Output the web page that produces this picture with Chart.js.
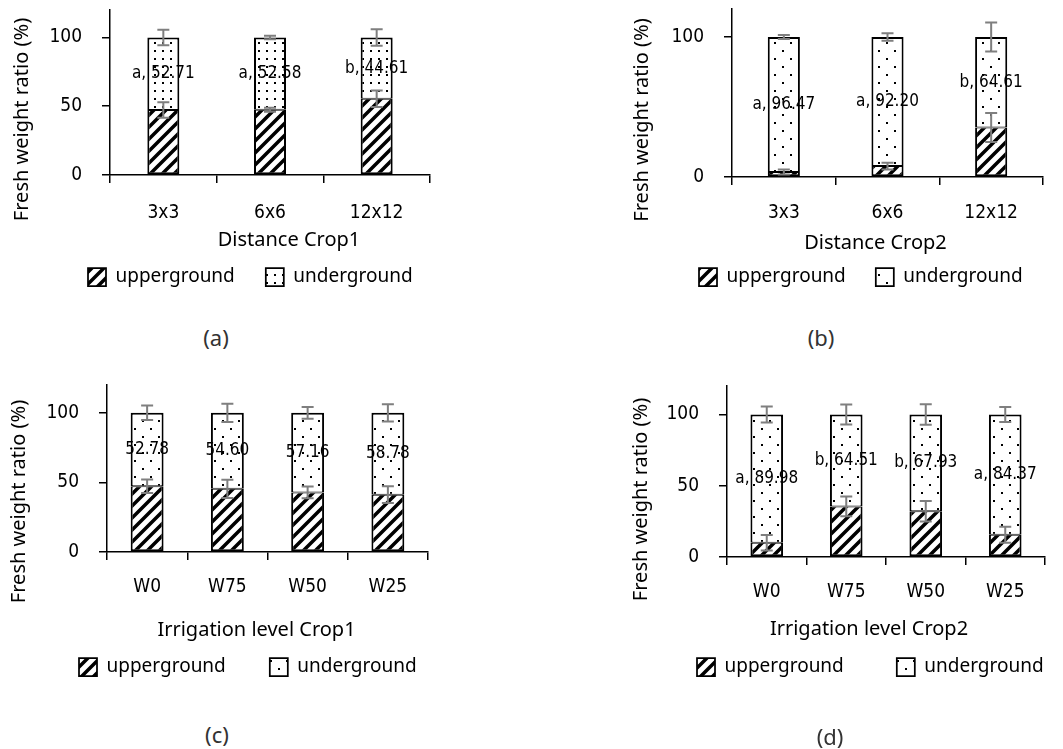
<!DOCTYPE html>
<html>
<head>
<meta charset="utf-8">
<script src="https://cdn.jsdelivr.net/npm/chart.js@4.4.0/dist/chart.umd.min.js"></script>
<style>
  html, body { margin: 0; padding: 0; background: #fff; overflow: hidden; }
  body { width: 1063px; height: 749px; position: relative; }
  canvas { position: absolute; }
  .cap { position: absolute; font-family: 'Noto Sans', sans-serif; font-size: 22px; color: #333; transform: translate(-50%, -50%); }
</style>
</head>
<body>
<canvas id="chartA" width="440" height="312" style="left:0px; top:0px"></canvas>
<canvas id="chartB" width="433" height="314" style="left:620px; top:0px"></canvas>
<canvas id="chartC" width="458" height="345" style="left:-20px; top:370px"></canvas>
<canvas id="chartD" width="480" height="353" style="left:575px; top:370px"></canvas>
<div class="cap" style="left:216px; top:337px">(a)</div>
<div class="cap" style="left:821px; top:337px">(b)</div>
<div class="cap" style="left:217px; top:734px">(c)</div>
<div class="cap" style="left:830px; top:736px">(d)</div>

<script>
const distanceLabels = ['3x3', '6x6', '12x12'];
const irrigationLabels = ['W0', 'W75', 'W50', 'W25'];
const yTicksFull = [0, 50, 100];
const yTicksShort = [0, 100];
const yTitle = 'Fresh weight ratio (%)';

// (a) distance - crop 1
const distCrop1Upper = [47.29, 47.42, 55.39];
const distCrop1Under = [52.71, 52.58, 44.61];
const distCrop1UpperErr = [5.7, 1.5, 6.0];
const distCrop1UnderErr = [5.7, 1.2, 6.0];
const distCrop1Letters = ['a', 'a', 'b'];

// (b) distance - crop 2
const distCrop2Upper = [3.53, 7.80, 35.39];
const distCrop2Under = [96.47, 92.20, 64.61];
const distCrop2UpperErr = [1.8, 2.4, 10.4];
const distCrop2UnderErr = [1.4, 2.7, 10.4];
const distCrop2Letters = ['a', 'a', 'b'];

// (c) irrigation - crop 1 (no letters here)
const irrCrop1Upper = [47.22, 45.40, 42.84, 41.22];
const irrCrop1Under = [52.78, 54.60, 57.16, 58.78];
const irrCrop1UpperErr = [4.9, 6.6, 4.2, 6.0];
const irrCrop1UnderErr = [5.2, 6.5, 4.2, 6.2];
const irrCrop1Letters = ['', '', '', ''];

// (d) irrigation - crop 2
const irrCrop2Upper = [10.02, 35.49, 32.07, 15.63];
const irrCrop2Under = [89.98, 64.51, 67.93, 84.37];
const irrCrop2UpperErr = [5.5, 6.9, 7.2, 5.6];
const irrCrop2UnderErr = [5.6, 7.1, 7.2, 5.2];
const irrCrop2Letters = ['a', 'b', 'b', 'a'];

const tickFont = { family: "'DejaVu Sans Condensed', 'Liberation Sans', sans-serif", size: 19, lineHeight: 1.2 };
const valueFont = "17px 'DejaVu Sans Condensed', 'Liberation Sans', sans-serif";
const titleFont = "20px 'Noto Sans', sans-serif";
const legendFont = { family: "'Noto Sans', sans-serif", size: 19, lineHeight: 1.2 };

// black diagonal hatching for the upperground part
function stripePattern() {
  const c = document.createElement('canvas');
  c.width = c.height = 12;
  const g = c.getContext('2d');
  g.fillStyle = '#fff';
  g.fillRect(0, 0, 12, 12);
  g.strokeStyle = '#000';
  g.lineWidth = 3.5;
  g.beginPath();
  g.moveTo(-3, 15); g.lineTo(15, -3);
  g.moveTo(-3, 3); g.lineTo(3, -3);
  g.moveTo(9, 15); g.lineTo(15, 9);
  g.stroke();
  return g.createPattern(c, 'repeat');
}

// dots for the underground part (grid or staggered)
function dotPattern(grid) {
  const c = document.createElement('canvas');
  c.width = c.height = 16;
  const g = c.getContext('2d');
  g.fillStyle = '#fff';
  g.fillRect(0, 0, 16, 16);
  g.fillStyle = '#000';
  g.fillRect(2, 2, 2, 2);
  g.fillRect(10, 10, 2, 2);
  if (grid) {
    g.fillRect(10, 2, 2, 2);
    g.fillRect(2, 10, 2, 2);
  }
  return g.createPattern(c, 'repeat');
}

// error bars on top of each stacked segment + value labels in the underground part
const barExtras = {
  id: 'barExtras',
  afterDatasetsDraw(chart) {
    const ctx = chart.ctx;
    const yScale = chart.scales.y;
    const sets = chart.data.datasets;
    ctx.save();
    ctx.strokeStyle = '#7f7f7f';
    ctx.lineWidth = 2;
    sets.forEach((ds, i) => {
      chart.getDatasetMeta(i).data.forEach((bar, j) => {
        let top = 0;
        for (let k = 0; k <= i; k++) top += sets[k].data[j];
        const e = ds.errors[j];
        const y1 = yScale.getPixelForValue(top + e);
        const y2 = yScale.getPixelForValue(top - e);
        ctx.beginPath();
        ctx.moveTo(bar.x, y1); ctx.lineTo(bar.x, y2);
        ctx.moveTo(bar.x - 6, y1); ctx.lineTo(bar.x + 6, y1);
        ctx.moveTo(bar.x - 6, y2); ctx.lineTo(bar.x + 6, y2);
        ctx.stroke();
      });
    });
    // labels: "letter, value" of the underground share
    const under = sets[1];
    ctx.fillStyle = '#000';
    ctx.font = valueFont;
    ctx.textAlign = 'center';
    ctx.textBaseline = 'middle';
    chart.getDatasetMeta(1).data.forEach((bar, j) => {
      const v = under.data[j].toFixed(2);
      const txt = under.letters[j] ? under.letters[j] + ', ' + v : v;
      ctx.fillText(txt, bar.x, (bar.y + bar.base) / 2);
    });
    ctx.restore();
  }
};

// axis titles sit off-centre in the original (Excel), so draw them here
const axisTitles = {
  id: 'axisTitles',
  afterDraw(chart, args, o) {
    const ctx = chart.ctx, a = chart.chartArea;
    ctx.save();
    ctx.fillStyle = '#000';
    ctx.font = titleFont;
    ctx.textAlign = 'center';
    ctx.textBaseline = 'middle';
    ctx.fillText(o.xText, (a.left + a.right) / 2 + o.xShift, a.bottom + o.xDrop);
    ctx.translate(a.left - o.yGap, (a.top + a.bottom) / 2 + o.yShift);
    ctx.rotate(-Math.PI / 2);
    ctx.fillText(o.yText, 0, 0);
    ctx.restore();
  }
};

// Excel puts the legend a bit left of where chart.js centers it, so move it
const legendSpot = {
  id: 'legendSpot',
  afterLayout(chart, args, opts) {
    const lg = chart.legend;
    if (!lg || opts.x == null) return;
    const pad = lg.options.labels.padding;
    const w = lg.right - lg.left, h = lg.bottom - lg.top;
    lg.left = opts.x - pad; lg.right = lg.left + w;
    lg.top = opts.y - pad; lg.bottom = lg.top + h;
  }
};

function makeChart(id, o) {
  const ctx = document.getElementById(id).getContext('2d');
  return new Chart(ctx, {
    type: 'bar',
    data: {
      labels: o.labels,
      datasets: [
        {
          label: 'upperground',
          data: o.upper,
          errors: o.upperErr,
          backgroundColor: stripePattern(),
          borderColor: '#000',
          borderWidth: { top: 1, left: 2, right: 2, bottom: 2 },
          borderSkipped: false,
          barPercentage: o.barPct,
          categoryPercentage: 1
        },
        {
          label: 'underground',
          data: o.under,
          errors: o.underErr,
          letters: o.letters,
          backgroundColor: dotPattern(o.dotGrid),
          borderColor: '#000',
          borderWidth: { top: 2, left: 2, right: 2, bottom: 1 },
          borderSkipped: false,
          barPercentage: o.barPct,
          categoryPercentage: 1
        }
      ]
    },
    options: {
      responsive: false,
      animation: false,
      events: [],
      layout: { padding: { left: 0, right: 10, top: o.padTop, bottom: 0 } },
      scales: {
        x: {
          stacked: true,
          afterFit: s => { s.height = o.xAxisHeight; },
          grid: { drawOnChartArea: false, tickLength: 8, color: '#000', lineWidth: 1.5, offset: true },
          border: { color: '#000', width: 1.5 },
          ticks: { color: '#000', font: tickFont, padding: o.xTickPad }
        },
        y: {
          stacked: true,
          min: 0,
          max: 120,
          afterBuildTicks: s => { s.ticks = o.yTicks.map(v => ({ value: v })); },
          afterFit: s => { s.width = o.yAxisWidth; s.paddingTop = 0; },
          grid: { drawOnChartArea: false, tickLength: 8, color: '#000', lineWidth: 1.5 },
          border: { color: '#000', width: 1.5 },
          ticks: { color: '#000', font: tickFont, padding: 20 }
        }
      },
      plugins: {
        tooltip: { enabled: false },
        legend: {
          position: 'bottom',
          align: 'start',
          labels: { color: '#000', font: legendFont, boxWidth: 18, boxHeight: 18, padding: o.legendGap }
        },
        legendSpot: { x: o.legendX, y: o.legendY },
        axisTitles: { xText: o.xTitle, yText: yTitle, xShift: o.xShift, xDrop: o.xDrop, yGap: o.yGap, yShift: o.yShift }
      }
    },
    plugins: [barExtras, axisTitles, legendSpot]
  });
}

const chartA = makeChart('chartA', {
  labels: distanceLabels, upper: distCrop1Upper, under: distCrop1Under,
  upperErr: distCrop1UpperErr, underErr: distCrop1UnderErr, letters: distCrop1Letters,
  xTitle: 'Distance Crop1', yTicks: yTicksFull, barPct: 0.3, dotGrid: true,
  padTop: 10, yAxisWidth: 110, xAxisHeight: 77, xTickPad: 18.6,
  xShift: 19, xDrop: 65, yGap: 88, yShift: 27,
  legendGap: 31, legendX: 88, legendY: 267.5
});

const chartB = makeChart('chartB', {
  labels: distanceLabels, upper: distCrop2Upper, under: distCrop2Under,
  upperErr: distCrop2UpperErr, underErr: distCrop2UnderErr, letters: distCrop2Letters,
  xTitle: 'Distance Crop2', yTicks: yTicksShort, barPct: 0.31, dotGrid: false,
  padTop: 9, yAxisWidth: 112, xAxisHeight: 78, xTickPad: 16.6,
  xShift: -12, xDrop: 66, yGap: 90, yShift: 27,
  legendGap: 30, legendX: 79, legendY: 267.5
});

const chartC = makeChart('chartC', {
  labels: irrigationLabels, upper: irrCrop1Upper, under: irrCrop1Under,
  upperErr: irrCrop1UpperErr, underErr: irrCrop1UnderErr, letters: irrCrop1Letters,
  xTitle: 'Irrigation level Crop1', yTicks: yTicksFull, barPct: 0.41, dotGrid: false,
  padTop: 15, yAxisWidth: 127, xAxisHeight: 90, xTickPad: 15.6,
  xShift: -11, xDrop: 78, yGap: 88, yShift: 33,
  legendGap: 44, legendX: 99, legendY: 287.5
});

const chartD = makeChart('chartD', {
  labels: irrigationLabels, upper: irrCrop2Upper, under: irrCrop2Under,
  upperErr: irrCrop2UpperErr, underErr: irrCrop2UnderErr, letters: irrCrop2Letters,
  xTitle: 'Irrigation level Crop2', yTicks: yTicksFull, barPct: 0.41, dotGrid: false,
  padTop: 16, yAxisWidth: 152, xAxisHeight: 84, xTickPad: 15.6,
  xShift: -17, xDrop: 72, yGap: 86, yShift: 28,
  legendGap: 53, legendX: 122, legendY: 287.5
});
</script>
</body>
</html>
